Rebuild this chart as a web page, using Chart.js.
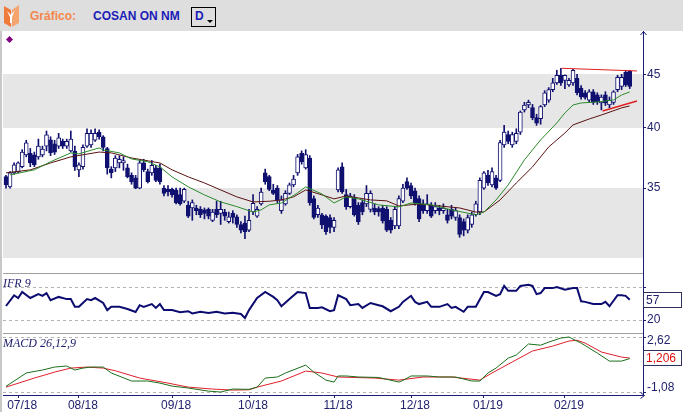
<!DOCTYPE html>
<html lang="pt-BR">
<head>
<meta charset="utf-8">
<title>Gráfico COSAN ON NM</title>
<script src="https://cdn.jsdelivr.net/npm/chart.js@4.4.1/dist/chart.umd.min.js"></script>
<style>
    html, body { margin: 0; padding: 0; background: #fff; }
    #pagina { position: relative; width: 683px; height: 412px; overflow: hidden; background: #fff; font-family: "Liberation Sans", Arial, sans-serif; }
    #topo { position: absolute; left: 0; top: 0; width: 683px; height: 31px; background: #dedede; }
    #logo { position: absolute; left: 3px; top: 3px; }
    #rotulo { position: absolute; left: 30px; top: 9px; font-size: 12px; font-weight: bold; color: #f4874b; }
    #ativo { position: absolute; left: 93px; top: 9px; font-size: 12px; font-weight: bold; color: #1c1cb8; }
    #periodo { position: absolute; left: 191px; top: 7px; width: 23px; height: 18px; border: 1px solid #000; }
    #periodo span { position: absolute; left: 3px; top: 1px; font-size: 12px; font-weight: bold; color: #1c1cb8; }
    #periodo i { position: absolute; left: 15px; top: 12px; width: 0; height: 0; border-left: 3px solid transparent; border-right: 3px solid transparent; border-top: 3px solid #000; }
    #borda-esq { position: absolute; left: 0; top: 31px; width: 2px; height: 381px; background: #c8c8c8; }
    #marcador { position: absolute; left: 7px; top: 37px; width: 5px; height: 5px; background: #800080; transform: rotate(45deg); }
    #grafico-wrap { position: absolute; left: 0; top: 31px; width: 683px; height: 381px; }
    .painel-titulo { position: absolute; left: 3px; font-family: "Liberation Serif", serif; font-style: italic; font-size: 12px; line-height: 12px; color: #1c1c6c; }
</style>
</head>
<body>
<div id="pagina">
    <div id="topo">
        <svg id="logo" width="18" height="25" viewBox="0 0 18 25">
            <polygon points="1,3 8,7 8,24 1,20" fill="#f07a3a"/>
            <polygon points="9,7 16,2 16,20 9,24" fill="#f6a46e"/>
            <polygon points="4,8 8,12 12,7 9,14 9,20 7,20 7,14" fill="#fff"/>
        </svg>
        <div id="rotulo">Gráfico:</div>
        <div id="ativo">COSAN ON NM</div>
        <div id="periodo"><span>D</span><i></i></div>
    </div>
    <div id="borda-esq"></div>
    <div id="grafico-wrap">
        <canvas id="chart-cotacao" width="683" height="381"></canvas>
    </div>
    <div id="marcador"></div>
    <div class="painel-titulo" style="top:277px">IFR 9</div>
    <div class="painel-titulo" style="top:337px">MACD 26,12,9</div>
</div>

<script>
// =========================
// DADOS (pregões 0..154, 07/18 a 02/19)
// =========================
const monthDays = [3, 18, 41, 60, 81, 100, 118, 138]
const monthLabels = ["07/18", "08/18", "09/18", "10/18", "11/18", "12/18", "01/19", "02/19"]

const opens = [
    35.9, 35.1, 36.2, 36.3, 36.7, 37.66, 37.8, 37.66, 37.5, 37.66,
    38.4, 38.93, 38.6, 38.4, 38.8, 38.4, 38.0, 37.99, 36.44, 36.7,
    38.4, 38.5, 38.9, 39.6, 39.2, 38.2, 36.5, 36.6, 37.0, 37.0,
    36.6, 36.0, 35.8, 35.0, 37.0, 36.3, 36.2, 36.6, 36.6, 35.0,
    34.9, 34.9, 34.85, 34.5, 34.0, 33.7, 33.5, 33.5, 33.4, 33.36,
    33.4, 32.6, 33.4, 33.1, 33.2, 32.5, 33.1, 32.85, 32.3, 32.4,
    31.9, 33.2, 32.9, 33.8, 36.2, 35.9, 34.85, 35.0, 33.3, 33.8,
    34.6, 35.25, 36.2, 37.8, 36.6, 37.4, 34.2, 33.0, 32.99, 32.9,
    32.8, 32.1, 34.86, 36.68, 34.5, 33.6, 34.3, 33.7, 33.9, 33.8,
    33.4, 33.5, 33.45, 33.5, 33.4, 32.6, 32.2, 32.2, 34.0, 35.5,
    35.2, 34.8, 34.2, 33.8, 33.3, 33.7, 33.3, 33.5, 33.3, 33.0,
    33.4, 32.8, 32.8, 32.5, 31.9, 32.3, 33.0, 33.2, 35.0, 36.0,
    35.25, 35.8, 35.6, 38.5, 39.4, 38.5, 38.8, 39.6, 41.6, 42.05,
    41.8, 40.9, 40.8, 42.05, 42.5, 43.5, 44.15, 44.9, 44.4, 43.95,
    44.15, 44.6, 43.66, 43.2, 42.5, 43.3, 43.0, 42.25, 43.0, 42.05,
    42.3, 43.5, 43.8, 45.2, 45.3
]
const highs = [
    36.0, 36.3, 37.0, 37.1, 38.1, 38.9, 38.2, 37.9, 39.0, 38.4,
    39.7, 39.2, 38.9, 39.5, 39.0, 39.0, 39.7, 38.4, 37.0, 38.5,
    39.9, 39.8, 39.9, 39.8, 39.3, 38.3, 36.7, 37.6, 37.6, 37.5,
    36.9, 36.2, 36.0, 37.2, 37.3, 36.5, 37.2, 36.8, 36.9, 35.2,
    35.2, 35.0, 35.0, 35.0, 35.0, 34.0, 34.1, 33.7, 33.6, 33.5,
    33.5, 33.4, 34.0, 34.0, 33.4, 33.2, 33.3, 33.0, 32.5, 32.9,
    33.4, 34.5, 33.6, 35.0, 36.5, 36.0, 35.3, 35.2, 34.4, 34.8,
    35.4, 36.0, 37.7, 38.0, 38.1, 37.6, 34.4, 33.7, 33.1, 33.0,
    33.0, 32.8, 36.6, 37.0, 34.9, 34.6, 34.5, 33.9, 34.1, 35.2,
    34.8, 33.8, 33.6, 33.7, 33.6, 32.8, 33.6, 34.4, 35.3, 35.8,
    35.4, 35.0, 34.4, 34.1, 34.5, 33.9, 33.9, 33.7, 33.8, 33.4,
    33.7, 33.5, 33.0, 32.7, 33.0, 33.2, 34.0, 35.8, 36.3, 36.4,
    36.6, 36.0, 38.9, 40.2, 39.7, 39.6, 39.9, 41.5, 42.3, 42.5,
    42.1, 41.2, 42.0, 43.4, 43.7, 44.6, 45.4, 45.6, 44.95, 44.6,
    45.5, 45.0, 43.9, 43.4, 43.5, 43.5, 43.2, 43.0, 43.3, 42.8,
    43.4, 44.9, 45.0, 45.4, 45.4
]
const lows = [
    35.0, 35.0, 36.1, 36.2, 36.6, 37.5, 36.7, 36.7, 37.3, 37.5,
    38.0, 37.6, 37.7, 38.2, 38.2, 38.2, 37.9, 36.4, 35.9, 36.5,
    38.3, 38.3, 38.8, 39.0, 38.0, 36.1, 35.8, 36.3, 36.6, 36.4,
    35.8, 35.3, 34.95, 34.95, 36.3, 35.4, 36.0, 35.5, 35.3, 34.4,
    34.4, 34.3, 33.8, 33.7, 33.9, 32.8, 32.6, 33.0, 32.8, 32.7,
    32.7, 32.5, 32.8, 32.3, 32.6, 32.4, 32.4, 32.1, 31.7, 31.3,
    31.8, 33.0, 32.8, 33.7, 35.3, 34.8, 34.5, 33.9, 33.1, 33.7,
    34.5, 35.1, 36.0, 36.9, 36.5, 33.7, 32.7, 32.8, 32.0, 31.6,
    31.7, 31.8, 34.7, 34.6, 33.4, 33.5, 32.9, 32.3, 33.0, 33.6,
    33.2, 33.0, 32.9, 32.4, 31.8, 31.7, 32.0, 32.0, 33.9, 34.9,
    34.2, 33.7, 32.5, 33.1, 33.1, 32.8, 33.1, 33.0, 33.1, 32.4,
    32.7, 32.6, 31.4, 31.5, 31.7, 32.1, 32.9, 33.0, 34.9, 35.2,
    35.1, 34.9, 35.5, 38.3, 38.6, 38.3, 38.6, 39.4, 41.4, 41.8,
    40.7, 40.2, 40.3, 41.9, 42.3, 43.3, 44.0, 43.9, 43.6, 43.8,
    43.9, 43.0, 42.6, 42.6, 42.3, 42.1, 42.1, 41.6, 42.0, 41.8,
    42.1, 43.3, 43.5, 43.8, 43.6
]
const closes = [
    35.25, 36.2, 36.84, 37.0, 37.9, 38.68, 37.0, 36.84, 38.4, 38.16,
    39.36, 37.83, 37.9, 39.1, 38.4, 38.8, 39.0, 36.68, 36.84, 38.3,
    39.5, 39.5, 39.5, 39.2, 38.3, 36.6, 36.2, 37.4, 37.3, 37.2,
    35.9, 35.5, 35.0, 37.0, 36.45, 35.5, 36.8, 35.6, 35.5, 34.6,
    34.7, 34.5, 33.9, 33.8, 34.9, 32.9, 33.9, 33.3, 33.0, 33.1,
    32.9, 33.2, 33.0, 33.4, 32.9, 32.85, 32.8, 32.3, 31.9, 31.8,
    32.6, 33.85, 33.4, 34.7, 35.5, 34.9, 34.6, 34.1, 34.1, 34.6,
    35.25, 35.7, 37.5, 37.1, 37.7, 33.9, 32.8, 33.5, 32.27, 31.8,
    32.1, 32.6, 36.44, 34.7, 33.6, 34.4, 33.0, 32.5, 33.2, 34.6,
    34.6, 33.2, 33.2, 32.55, 31.9, 31.9, 33.4, 34.2, 35.0, 35.0,
    34.4, 33.9, 32.7, 33.3, 33.8, 32.9, 33.6, 33.3, 33.5, 32.6,
    32.9, 33.3, 31.6, 31.9, 32.8, 33.0, 33.8, 35.6, 36.2, 35.4,
    36.3, 35.0, 38.7, 39.6, 38.8, 39.4, 39.5, 41.4, 42.05, 42.3,
    40.9, 40.4, 41.9, 43.2, 43.5, 44.15, 44.9, 44.15, 44.9, 44.4,
    45.4, 43.2, 42.8, 42.75, 43.3, 42.3, 42.35, 42.8, 42.25, 42.5,
    43.3, 44.7, 44.7, 43.95, 43.8
]

// médias móveis
const maFastDays = [1, 7, 11, 16, 18, 23, 24, 28, 31, 35, 38, 41, 45, 49, 53, 57, 61, 63, 65, 68, 72, 74, 78, 81, 84, 87, 92, 97, 100, 105, 110, 116, 118, 121, 124, 128, 132, 136, 138, 140, 142, 146, 150, 152, 154]
const maFast = [36.04, 36.44, 37.1, 37.83, 37.75, 38.25, 38.08, 37.83, 37.33, 37.1, 36.68, 35.88, 35.1, 34.48, 33.95, 33.6, 33.2, 33.36, 33.73, 33.87, 34.63, 35.1, 34.55, 33.87, 34.33, 34.18, 33.73, 33.58, 33.87, 33.73, 33.36, 33.0, 33.2, 34.1, 35.25, 37.25, 38.93, 40.42, 41.32, 42.05, 42.24, 42.33, 42.52, 42.99, 43.28]
const maSlowDays = [0, 6, 11, 16, 23, 26, 31, 38, 41, 45, 49, 53, 57, 61, 65, 68, 71, 74, 78, 81, 84, 90, 94, 97, 102, 107, 112, 116, 118, 122, 126, 130, 134, 138, 140, 144, 147, 152, 154]
const maSlow = [36.2, 36.44, 37.0, 37.5, 37.9, 37.83, 37.41, 37.0, 36.44, 35.88, 35.4, 34.86, 34.33, 33.95, 34.0, 34.1, 34.33, 34.86, 34.48, 34.18, 34.4, 34.1, 34.03, 33.65, 33.8, 33.65, 33.5, 33.2, 33.2, 34.1, 35.4, 36.68, 38.33, 39.53, 40.24, 40.77, 41.13, 41.78, 41.96]

// LTA / LTB traçadas no fim
const resistDays = [137.2, 155.8]
const resistValues = [45.6, 45.33]
const supportDays = [147.3, 155.8]
const supportValues = [41.5, 42.42]

// IFR 9
const ifrDays = [0, 2, 3, 4, 6, 8, 9, 10, 11, 13, 15, 16, 17, 18, 20, 21, 22, 24, 25, 26, 28, 30, 32, 33, 34, 36, 37, 38, 39, 41, 43, 45, 46, 48, 50, 52, 54, 56, 58, 59, 60, 62, 64, 66, 67, 68, 70, 72, 74, 75, 77, 78, 80, 81, 82, 84, 85, 87, 88, 90, 92, 93, 95, 97, 98, 100, 101, 102, 104, 105, 107, 109, 110, 111, 113, 114, 116, 118, 119, 121, 122, 123, 124, 126, 127, 129, 130, 131, 132, 133, 135, 136, 138, 140, 141, 142, 143, 145, 147, 148, 149, 151, 152, 153, 154]
const ifrValues = [45.5, 65, 60, 71, 60, 67, 64, 69, 56, 62, 58, 58, 44, 44, 58, 56, 60, 51, 38, 44, 44, 40, 34.5, 47, 44, 49, 42, 49, 38, 38, 34, 36, 32, 35, 33, 35, 32, 33, 31, 23.6, 38, 60, 71, 62, 56, 45, 58, 71, 69, 42, 42, 43, 36, 38, 65, 58, 47, 49, 42, 51, 47, 45, 36, 44, 53, 64, 53, 49, 53, 44, 44, 49, 42, 44, 35, 44, 44, 71, 71, 64, 67, 82, 73, 73, 82, 84, 82, 67, 69, 78, 78, 80, 75, 78, 78, 54, 53, 49, 49, 53, 45, 65, 65, 64, 57]

// MACD 26,12,9
const macdDays = [0, 5, 9, 12, 15, 17, 19, 21, 24, 26, 31, 35, 38, 41, 45, 50, 53, 56, 60, 62, 64, 67, 69, 74, 76, 79, 81, 82, 84, 87, 92, 97, 98, 100, 104, 107, 111, 115, 117, 119, 121, 124, 126, 129, 132, 134, 137, 139, 140, 142, 146, 149, 152, 154]
const macdLine = [-0.7, 0.2, 0.4, 0.6, 0.67, 0.4, 0.53, 0.6, 0.6, 0.2, -0.34, -0.34, -0.48, -0.68, -0.81, -1.02, -1.08, -0.88, -0.9, -0.75, -0.14, -0.07, 0.2, 0.73, 0.26, -0.28, -0.41, 0.0, 0.0, -0.07, -0.1, -0.41, -0.3, 0.0, 0.0, -0.07, -0.07, -0.34, -0.34, 0.2, 0.53, 1.2, 1.41, 2.15, 2.07, 2.28, 2.55, 2.62, 2.48, 2.21, 1.54, 1.0, 1.0, 1.17]
const signalDays = [0, 7, 12, 16, 20, 24, 27, 33, 40, 45, 51, 56, 60, 62, 68, 74, 78, 82, 91, 97, 103, 110, 117, 120, 125, 130, 135, 139, 141, 143, 147, 152, 154]
const signalLine = [-0.75, -0.14, 0.26, 0.53, 0.6, 0.53, 0.35, -0.14, -0.48, -0.75, -0.88, -0.95, -0.93, -0.75, -0.34, 0.33, 0.2, -0.07, -0.14, -0.28, -0.07, -0.07, -0.28, 0.2, 0.94, 1.68, 2.01, 2.35, 2.4, 2.21, 1.61, 1.27, 1.206]

const priceTicks = [35, 40, 45]
const ifrTicks = [20, 80]
const macdTicks = [-1.08, 0, 2.62]

// =========================
// ESTILO
// =========================
const corCandle = "#101070"
const corEixo = "#1a1a78"
const corTexto = "#22226e"
const fonteEixo = { family: "Liberation Sans", size: 12 }
const faixasCinza = [[40, 45], [30, 35]]

const pares = (xs, ys) => xs.map((x, k) => ({ x: x, y: ys[k] }))
const virgula = (v, d) => v.toFixed(d).replace(".", ",")

const faixasPlugin = {
    id: "faixas",
    beforeDraw(chart) {
        const { ctx, chartArea: area, scales } = chart
        const y = scales.y
        ctx.save()
        ctx.fillStyle = "#e6e6e6"
        faixasCinza.forEach(([lo, hi]) => {
            const top = Math.max(Math.round(y.getPixelForValue(hi)), y.top)
            const bottom = Math.min(Math.round(y.getPixelForValue(lo)), y.bottom)
            if (bottom > top) ctx.fillRect(area.left, top, area.right - area.left, bottom - top)
        })
        // separadores dos painéis
        ctx.strokeStyle = "#a0a0a0"
        ctx.lineWidth = 1
        ;[scales.yIfr.top, scales.yMacd.top].forEach(py => {
            ctx.beginPath()
            ctx.moveTo(area.left, Math.round(py) + 0.5)
            ctx.lineTo(area.right, Math.round(py) + 0.5)
            ctx.stroke()
        })
        ctx.restore()
    }
}

const valoresPlugin = {
    id: "valores",
    afterDraw(chart) {
        const { ctx, chartArea: area, scales } = chart
        const caixas = [
            { scale: scales.yIfr, value: ifrValues[ifrValues.length - 1], text: String(ifrValues[ifrValues.length - 1]), color: corTexto },
            { scale: scales.yMacd, value: signalLine[signalLine.length - 1], text: virgula(signalLine[signalLine.length - 1], 3), color: "#e01010" }
        ]
        ctx.save()
        ctx.font = "12px 'Liberation Sans'"
        ctx.textBaseline = "middle"
        caixas.forEach(b => {
            const py = Math.round(b.scale.getPixelForValue(b.value))
            const x0 = Math.round(area.right)
            ctx.fillStyle = "#ffffff"
            ctx.fillRect(x0 + 1, py - 7, 680 - x0, 14)
            ctx.strokeStyle = "#303060"
            ctx.lineWidth = 1
            ctx.strokeRect(x0 + 0.5, py - 7.5, 681 - x0, 15)
            ctx.fillStyle = b.color
            ctx.fillText(b.text, x0 + 3, py + 0.5)
        })
        // setas dos eixos
        ctx.strokeStyle = corEixo
        const ax = Math.round(area.right) + 0.5
        ctx.beginPath()
        ctx.moveTo(ax - 3, 4); ctx.lineTo(ax, 0.5); ctx.lineTo(ax + 3, 4)
        const by = Math.round(area.bottom) + 0.5
        ctx.moveTo(ax - 3, by - 3); ctx.lineTo(ax + 1, by); ctx.lineTo(ax - 3, by + 3)
        ctx.stroke()
        ctx.restore()
    }
}

class GraficoController {
    constructor() {
        this.chart = null
    }

    init() {
        this.renderGrafico()
    }

    renderGrafico() {
        const ctx = document.getElementById("chart-cotacao")
        if (!ctx) return

        const corpoCores = closes.map((c, i) => c >= opens[i] ? "#ffffff" : corCandle)

        const eixoY = (extra) => Object.assign({
            position: "right",
            stack: "paineis",
            afterFit: s => { s.width = 40; s.paddingTop = 0; s.paddingBottom = 0 },
            ticks: { color: corTexto, font: fonteEixo, padding: 1 },
            border: { color: corEixo, width: 1 }
        }, extra)

        this.chart = new Chart(ctx, {
            data: {
                datasets: [
                    { type: "line", label: "LTB", data: pares(resistDays, resistValues), yAxisID: "y", borderColor: "#e02020", borderWidth: 1, pointRadius: 0, order: 0 },
                    { type: "line", label: "LTA", data: pares(supportDays, supportValues), yAxisID: "y", borderColor: "#e02020", borderWidth: 1.5, pointRadius: 0, order: 0 },
                    { type: "line", label: "Média curta", data: pares(maFastDays, maFast), yAxisID: "y", borderColor: "#2b8a2b", borderWidth: 1, pointRadius: 0, order: 1 },
                    { type: "line", label: "Média longa", data: pares(maSlowDays, maSlow), yAxisID: "y", borderColor: "#5a1212", borderWidth: 1, pointRadius: 0, order: 2 },
                    {
                        type: "bar", label: "Corpo", yAxisID: "y", order: 4,
                        data: opens.map((o, i) => ({ x: i, y: [o, closes[i]] })),
                        backgroundColor: corpoCores, borderColor: corCandle, borderWidth: 1,
                        borderSkipped: false, barThickness: 4, grouped: false
                    },
                    {
                        type: "bar", label: "Sombra", yAxisID: "y", order: 5,
                        data: lows.map((l, i) => ({ x: i, y: [l, highs[i]] })),
                        backgroundColor: corCandle, borderWidth: 0, barThickness: 1, grouped: false
                    },
                    { type: "line", label: "IFR 9", data: pares(ifrDays, ifrValues), yAxisID: "yIfr", borderColor: "#0c0c70", borderWidth: 2, pointRadius: 0, order: 1 },
                    { type: "line", label: "MACD", data: pares(macdDays, macdLine), yAxisID: "yMacd", borderColor: "#1b6e1b", borderWidth: 1, pointRadius: 0, order: 1 },
                    { type: "line", label: "Sinal", data: pares(signalDays, signalLine), yAxisID: "yMacd", borderColor: "#e0202a", borderWidth: 1, pointRadius: 0, order: 2 }
                ]
            },
            options: {
                responsive: false,
                devicePixelRatio: 1,
                animation: false,
                layout: { padding: { left: 3, top: 0, right: 0, bottom: 0 } },
                plugins: {
                    legend: { display: false },
                    tooltip: { enabled: false }
                },
                scales: {
                    x: {
                        type: "linear",
                        offset: false,
                        min: -0.74,
                        max: 157.28,
                        afterBuildTicks: s => { s.ticks = monthDays.map(v => ({ value: v })) },
                        afterFit: s => { s.height = 17; s.paddingLeft = 0; s.paddingRight = 0 },
                        ticks: {
                            autoSkip: false, maxRotation: 0, padding: 0, labelOffset: 4,
                            color: corTexto, font: fonteEixo,
                            callback: v => monthLabels[monthDays.indexOf(v)] || ""
                        },
                        grid: { drawOnChartArea: false, offset: false, tickLength: 3, color: corEixo },
                        border: { color: corEixo }
                    },
                    y: eixoY({
                        type: "logarithmic",
                        stackWeight: 242,
                        weight: 0,
                        min: 29.02,
                        max: 49.51,
                        afterBuildTicks: s => { s.ticks = priceTicks.map(v => ({ value: v })) },
                        ticks: { color: corTexto, font: fonteEixo, padding: 1, callback: v => String(v) },
                        grid: { drawOnChartArea: false, tickLength: 3, color: corEixo }
                    }),
                    yIfr: eixoY({
                        type: "linear",
                        stackWeight: 60,
                        weight: 1,
                        min: -3.6,
                        max: 105.5,
                        afterBuildTicks: s => { s.ticks = ifrTicks.map(v => ({ value: v })) },
                        ticks: { color: corTexto, font: fonteEixo, padding: 1, callback: v => v === 80 ? "" : String(v) },
                        grid: { drawOnChartArea: true, tickLength: 3, color: "#b4b4b4", tickColor: corEixo },
                        border: { color: corEixo, width: 1, dash: [3, 3] }
                    }),
                    yMacd: eixoY({
                        type: "linear",
                        stackWeight: 62,
                        weight: 2,
                        min: -1.28,
                        max: 2.89,
                        afterBuildTicks: s => { s.ticks = macdTicks.map(v => ({ value: v })) },
                        ticks: {
                            color: corTexto, padding: 1,
                            font: { family: "Liberation Sans", size: 12, lineHeight: 0.65 },
                            // rótulos dos extremos ficam puxados para dentro do painel
                            callback: v => v === 0 ? "" : (v > 0 ? ["", virgula(v, 2)] : [virgula(v, 2), ""])
                        },
                        grid: { drawOnChartArea: true, tickLength: 3, color: "#b4b4b4", tickColor: corEixo },
                        border: { color: corEixo, width: 1, dash: [3, 3] }
                    })
                }
            },
            plugins: [faixasPlugin, valoresPlugin]
        })
    }
}

new GraficoController().init()
</script>
</body>
</html>
